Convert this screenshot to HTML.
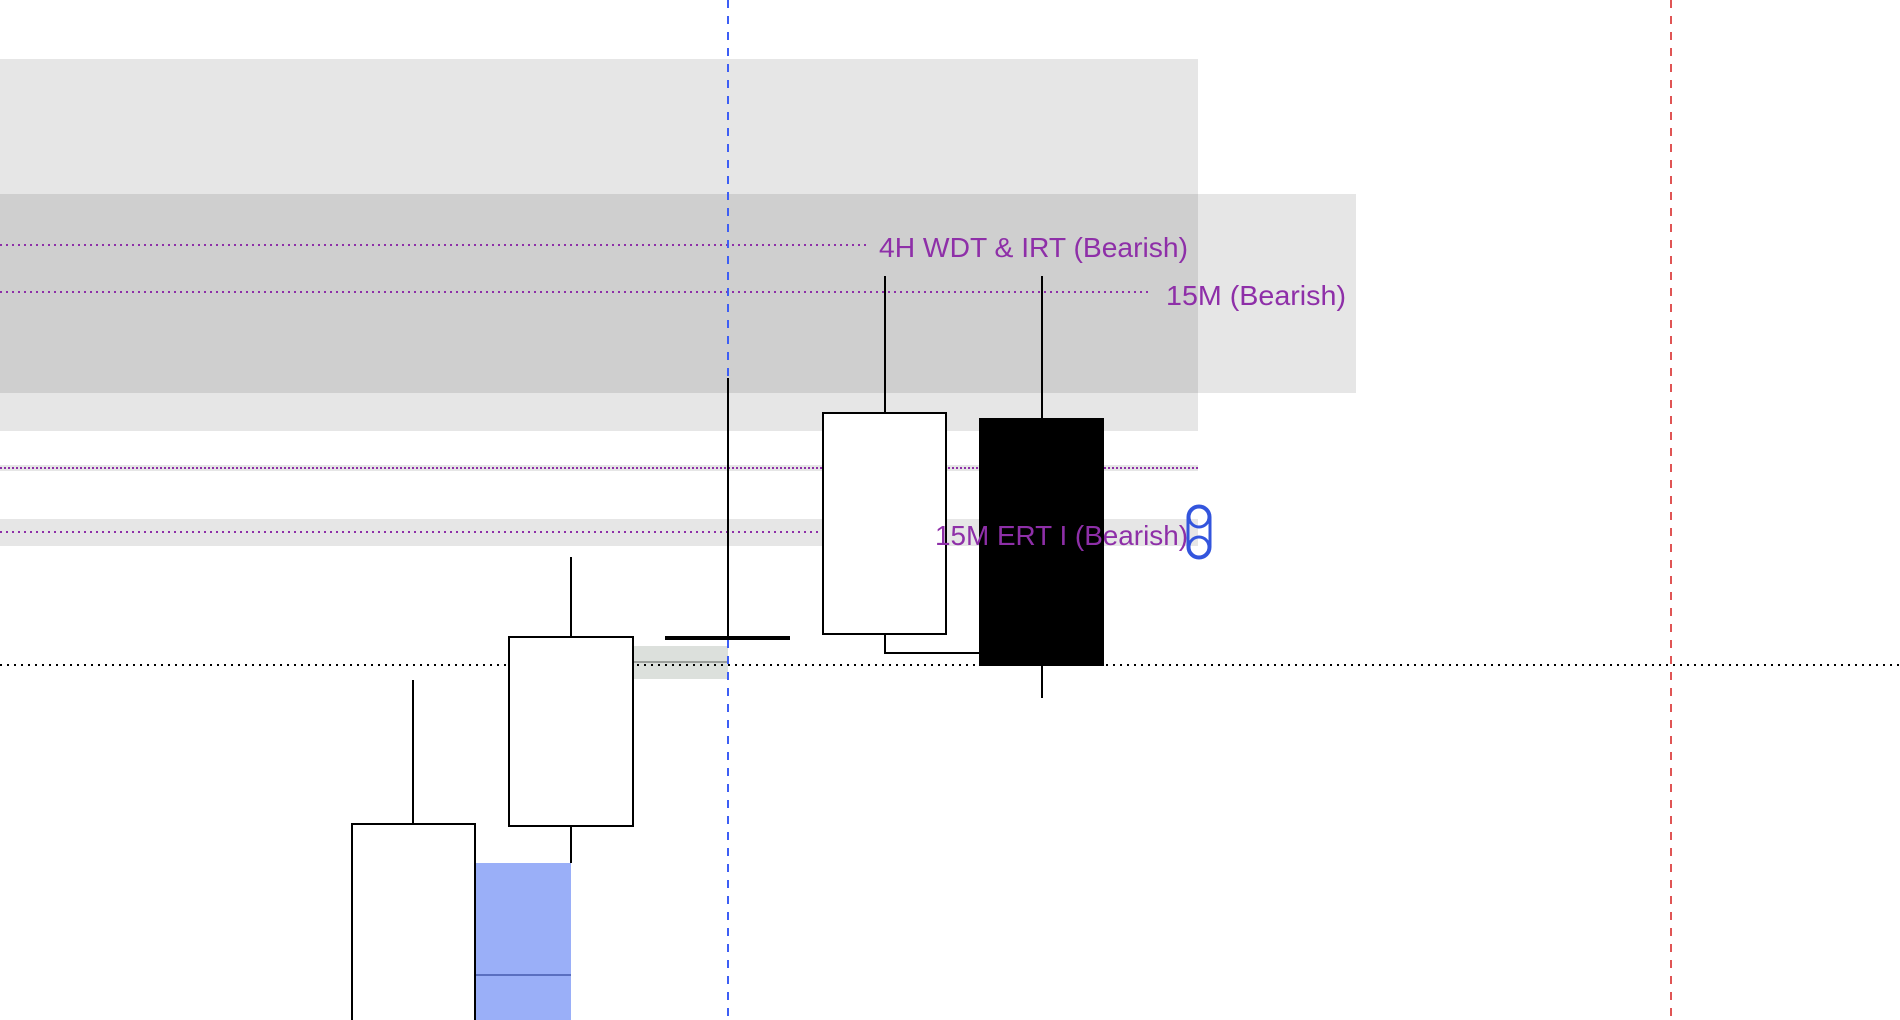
<!DOCTYPE html>
<html><head><meta charset="utf-8"><style>
html,body{margin:0;padding:0;background:#fff;width:1900px;height:1020px;overflow:hidden}
svg{display:block}
text{font-family:"Liberation Sans",sans-serif;font-size:28px;fill:#8e2fa8}
</style></head><body>
<svg width="1900" height="1020" viewBox="0 0 1900 1020" xmlns="http://www.w3.org/2000/svg">
<rect x="0" y="59" width="1198" height="372" fill="rgba(0,0,0,0.098)"/>
<rect x="0" y="194" width="1356" height="199" fill="rgba(0,0,0,0.098)"/>
<rect x="0" y="519" width="1198" height="27" fill="rgba(0,0,0,0.098)"/>
<rect x="0" y="465" width="1198" height="6" fill="rgba(0,0,0,0.098)"/>
<line x1="0" y1="245" x2="866" y2="245" stroke="#8e2fa8" stroke-width="2" stroke-dasharray="2 4"/>
<line x1="0" y1="292" x2="1148" y2="292" stroke="#8e2fa8" stroke-width="2" stroke-dasharray="2 4"/>
<line x1="0" y1="468" x2="1198" y2="468" stroke="#8e2fa8" stroke-width="2" stroke-dasharray="2 2"/>
<line x1="0" y1="532" x2="921" y2="532" stroke="#8e2fa8" stroke-width="2" stroke-dasharray="2 4"/>
<rect x="633" y="646" width="95" height="33" fill="#dce0dc"/>
<line x1="633" y1="662" x2="728" y2="662" stroke="#9a9e9a" stroke-width="2"/>
<rect x="475" y="863" width="96" height="157" fill="#9aaff8"/>
<line x1="475" y1="975" x2="571" y2="975" stroke="#5a6fc0" stroke-width="2"/>
<line x1="0" y1="665" x2="1900" y2="665" stroke="#000" stroke-width="2" stroke-dasharray="2 5"/>
<line x1="413" y1="680" x2="413" y2="824" stroke="#000" stroke-width="2"/>
<rect x="352" y="824" width="123" height="210" fill="#fff" stroke="#000" stroke-width="2"/>
<line x1="571" y1="557" x2="571" y2="863" stroke="#000" stroke-width="2"/>
<rect x="509" y="637" width="124" height="189" fill="#fff" stroke="#000" stroke-width="2"/>
<line x1="728" y1="0" x2="728" y2="1020" stroke="#3d5ef5" stroke-width="2" stroke-dasharray="8 8"/>
<line x1="1671" y1="0" x2="1671" y2="1020" stroke="#e05555" stroke-width="2" stroke-dasharray="8 8"/>
<line x1="728" y1="378" x2="728" y2="638" stroke="#000" stroke-width="2"/>
<line x1="665" y1="638" x2="790" y2="638" stroke="#000" stroke-width="4"/>
<line x1="885" y1="276" x2="885" y2="413" stroke="#000" stroke-width="2"/>
<polyline points="885,634 885,653 980,653" fill="none" stroke="#000" stroke-width="2"/>
<rect x="823" y="413" width="123" height="221" fill="#fff" stroke="#000" stroke-width="2"/>
<line x1="1042" y1="276" x2="1042" y2="698" stroke="#000" stroke-width="2"/>
<rect x="979" y="418" width="125" height="248" fill="#000"/>
<text x="879" y="257" textLength="309" lengthAdjust="spacingAndGlyphs">4H WDT &amp; IRT (Bearish)</text>
<text x="1166" y="305" textLength="180" lengthAdjust="spacingAndGlyphs">15M (Bearish)</text>
<text x="935" y="545" textLength="253" lengthAdjust="spacingAndGlyphs">15M ERT I (Bearish)</text>
<rect x="1188" y="506" width="22" height="52" rx="11" fill="none" stroke="#3355dd" stroke-width="3"/>
<circle cx="1199" cy="517" r="10" fill="none" stroke="#3355dd" stroke-width="3"/>
<circle cx="1199" cy="547" r="10" fill="none" stroke="#3355dd" stroke-width="3"/>
</svg>
</body></html>
